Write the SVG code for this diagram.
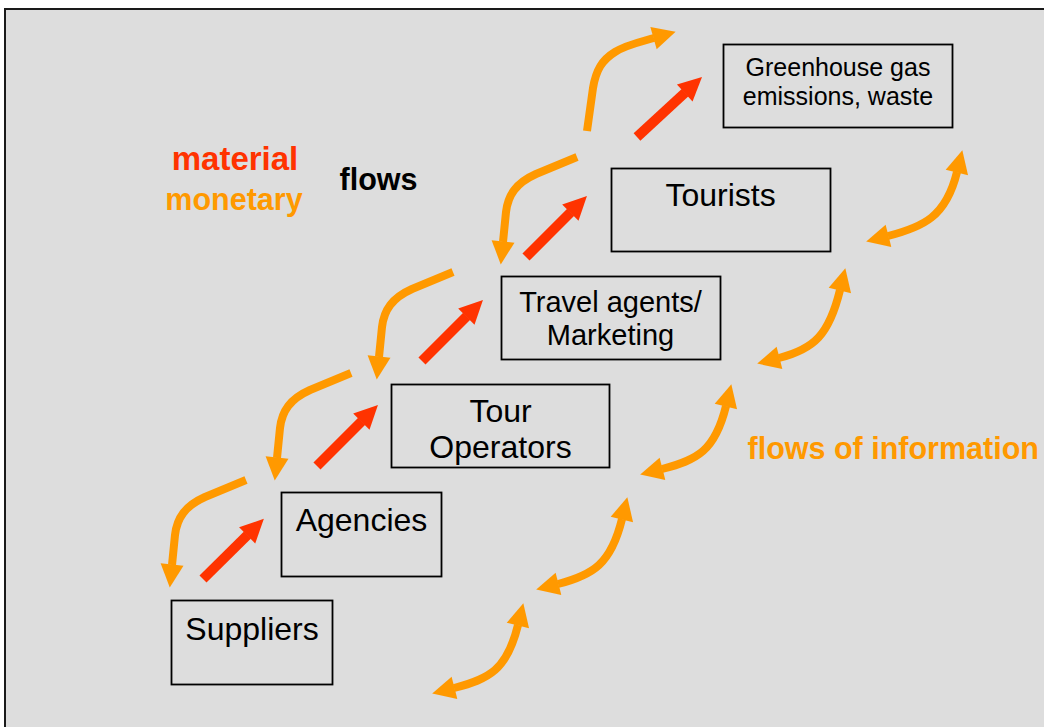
<svg xmlns="http://www.w3.org/2000/svg" width="1044" height="727" viewBox="0 0 1044 727">
  <style>
    .box { fill: none; stroke: #000; stroke-width: 1.8; }
    .lbl { font-family: "Liberation Sans", Arial, sans-serif; font-size: 32px; fill: #000; text-anchor: middle; }
    .lbl-s { font-family: "Liberation Sans", Arial, sans-serif; font-size: 25px; fill: #000; text-anchor: middle; }
    .lbl-m { font-family: "Liberation Sans", Arial, sans-serif; font-size: 29px; fill: #000; text-anchor: middle; }
    .key { font-family: "Liberation Sans", Arial, sans-serif; font-weight: bold; font-size: 30.5px; }
    .key-l { font-family: "Liberation Sans", Arial, sans-serif; font-weight: bold; font-size: 33px; }
    .mat { stroke: #FF3300; stroke-width: 10; fill: none; marker-end: url(#hRed); }
    .mon { stroke: #FF9900; stroke-width: 8; fill: none; stroke-linejoin: round; }
    .inf { stroke: #FF9900; stroke-width: 8; fill: none; marker-start: url(#hOr); marker-end: url(#hOr); }
  </style>
  <defs>
    <marker id="hRed" markerUnits="userSpaceOnUse" markerWidth="30" markerHeight="30" refX="0" refY="0" orient="auto" overflow="visible">
      <path d="M-0.5,-11.5 L23,0 L-0.5,11.5 Z" fill="#FF3300"/>
    </marker>
    <marker id="hOr" markerUnits="userSpaceOnUse" markerWidth="30" markerHeight="30" refX="0" refY="0" orient="auto-start-reverse" overflow="visible">
      <path d="M-0.5,-11.5 L22.5,0 L-0.5,11.5 Z" fill="#FF9900"/>
    </marker>
  </defs>

  <rect x="0" y="0" width="1044" height="727" fill="#FFFFFF"/>
  <rect x="5" y="9" width="1060" height="740" fill="#DDDDDD" stroke="#1a1a1a" stroke-width="2"/>

  <g id="connectors">
    <!-- material flows -->
    <line class="mat" x1="203" y1="579" x2="247.5" y2="535"/>
    <line class="mat" x1="317" y1="466" x2="361.7" y2="421.3"/>
    <line class="mat" x1="422" y1="361" x2="466.7" y2="316.3"/>
    <line class="mat" x1="526" y1="257" x2="570.7" y2="212.3"/>
    <line class="mat" x1="637" y1="137" x2="685.1" y2="92.6"/>
    <!-- monetary flows -->
    <path class="mon" marker-end="url(#hOr)" transform="translate(246,480)" d="M0,0 L-41,17 C-61,26 -69,38 -71,55 L-74,85"/>
    <path class="mon" marker-end="url(#hOr)" transform="translate(351,373)" d="M0,0 L-41,17 C-61,26 -69,38 -71,55 L-74,85"/>
    <path class="mon" marker-end="url(#hOr)" transform="translate(453,272)" d="M0,0 L-41,17 C-61,26 -69,38 -71,55 L-74,85"/>
    <path class="mon" marker-end="url(#hOr)" transform="translate(577,157)" d="M0,0 L-41,17 C-61,26 -69,38 -71,55 L-74,85"/>
    <path class="mon" marker-end="url(#hOr)" d="M587,131 L593,88 C596,70 602,60 615,52 C626,45 640,42 654,38"/>
    <!-- flows of information -->
    <path class="inf" d="M454,688 C489,679 507,670 518,625"/>
    <path class="inf" d="M558,584 C593,575 611,564 622,519"/>
    <path class="inf" d="M662,469 C697,460 715,451 726,406"/>
    <path class="inf" d="M779,358 C814,349 829,335 840,290"/>
    <path class="inf" d="M888,236 C923,227 946,217 957,172"/>
  </g>

  <g id="node-greenhouse">
    <rect class="box" x="723.5" y="44.5" width="229" height="83"/>
    <text class="lbl-s" x="838" y="76">Greenhouse gas</text>
    <text class="lbl-s" x="838" y="104.5">emissions, waste</text>
  </g>
  <g id="node-tourists">
    <rect class="box" x="611.5" y="168.5" width="219" height="83"/>
    <text class="lbl" x="720.5" y="206">Tourists</text>
  </g>
  <g id="node-travel-agents">
    <rect class="box" x="501.5" y="276.5" width="219" height="83"/>
    <text class="lbl-m" x="610.5" y="312">Travel agents/</text>
    <text class="lbl-m" x="610.5" y="345">Marketing</text>
  </g>
  <g id="node-tour-operators">
    <rect class="box" x="391.5" y="384.5" width="218" height="83"/>
    <text class="lbl" x="500.5" y="422">Tour</text>
    <text class="lbl" x="500.5" y="458">Operators</text>
  </g>
  <g id="node-agencies">
    <rect class="box" x="281.5" y="492.5" width="160" height="84"/>
    <text class="lbl" x="361.5" y="531">Agencies</text>
  </g>
  <g id="node-suppliers">
    <rect class="box" x="171.5" y="600.5" width="161" height="84"/>
    <text class="lbl" x="252" y="640">Suppliers</text>
  </g>

  <g id="legend">
    <text class="key-l" x="235" y="170" fill="#FF3300" text-anchor="middle">material</text>
    <text class="key" x="234" y="210" fill="#FF9900" text-anchor="middle">monetary</text>
    <text class="key" x="378.5" y="190" fill="#000000" text-anchor="middle">flows</text>
    <text class="key" x="747.5" y="459" fill="#FF9900">flows of information</text>
  </g>
</svg>
